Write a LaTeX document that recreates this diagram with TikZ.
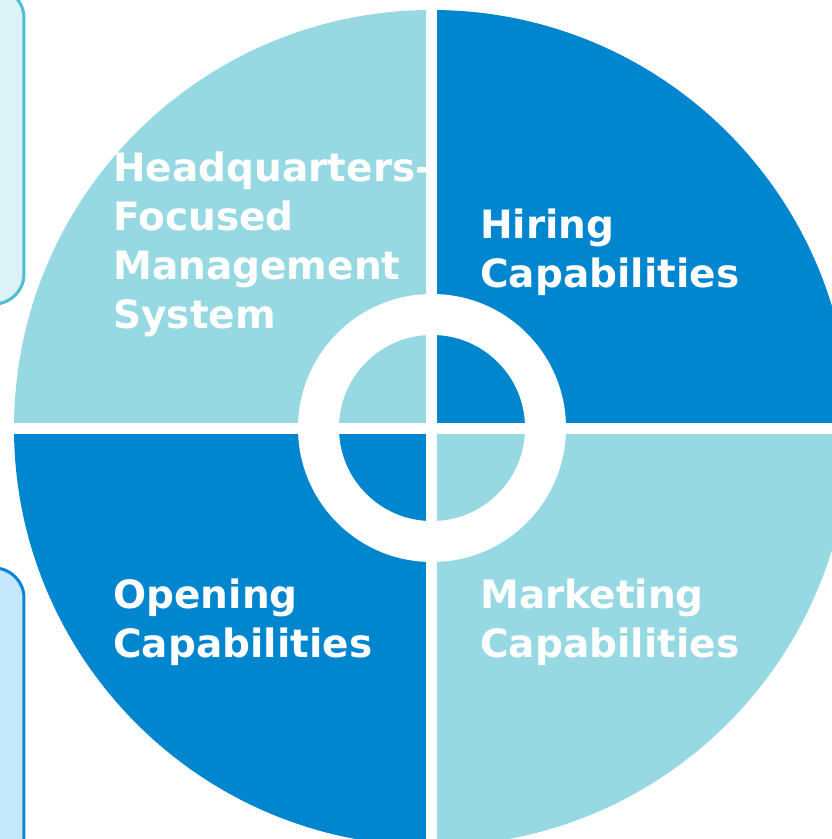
\documentclass[tikz,border=0pt]{standalone}
\usepackage{fontspec}
\setsansfont{DejaVu Sans}
\usepackage{tikz}

\definecolor{quadlight}{HTML}{97D9E2}
\definecolor{quaddark}{HTML}{0086CF}
\definecolor{paneltop}{HTML}{DDF2F6}
\definecolor{paneltopline}{HTML}{4DBFD0}
\definecolor{panelbot}{HTML}{C4E7FB}
\definecolor{panelbotline}{HTML}{0A86D0}

\begin{document}
\begin{tikzpicture}[
        x=0.02cm, y=0.02cm,
        panel/.style={line width=0.06cm, rounded corners=0.6cm},
        gap/.style={draw=white, line width=0.22cm},
        lbl/.style={text=white, inner sep=0pt, align=left, anchor=base west,
            font=\sffamily\bfseries\fontsize{22.2}{27.8}\selectfont}
    ]
        \clip (-432,428) rectangle (400,-411);

        % --- side panels ---
        \draw[panel, draw=paneltopline, fill=paneltop] (-520,440) rectangle (-408,124);
        \draw[panel, draw=panelbotline, fill=panelbot] (-520,-140) rectangle (-408,-480);

        % --- outer quadrants ---
        \foreach \a/\c in {0/quaddark, 90/quadlight, 180/quaddark, 270/quadlight}
            \fill[\c] (0,0) -- (\a:418) arc (\a:\a+90:418) -- cycle;

        % --- white ring and inner quadrants ---
        \fill[white] (0,0) circle (134);
        \foreach \a/\c in {0/quaddark, 90/quadlight, 180/quaddark, 270/quadlight}
            \fill[\c] (0,0) -- (\a:93) arc (\a:\a+90:93) -- cycle;

        \draw[gap] (-430,0) -- (430,0);
        \draw[gap] (0,430) -- (0,-430);

        % --- labels (anchored at the last line) ---
        \node[lbl] (hq)        at (-319,100)  {Headquarters-\\Focused\\Management\\System};
        \node[lbl] (hiring)    at (48,141)    {Hiring\\Capabilities};
        \node[lbl] (opening)   at (-319,-229) {Opening\\Capabilities};
        \node[lbl] (marketing) at (48,-229)   {Marketing\\Capabilities};

    \end{tikzpicture}
\end{document}
